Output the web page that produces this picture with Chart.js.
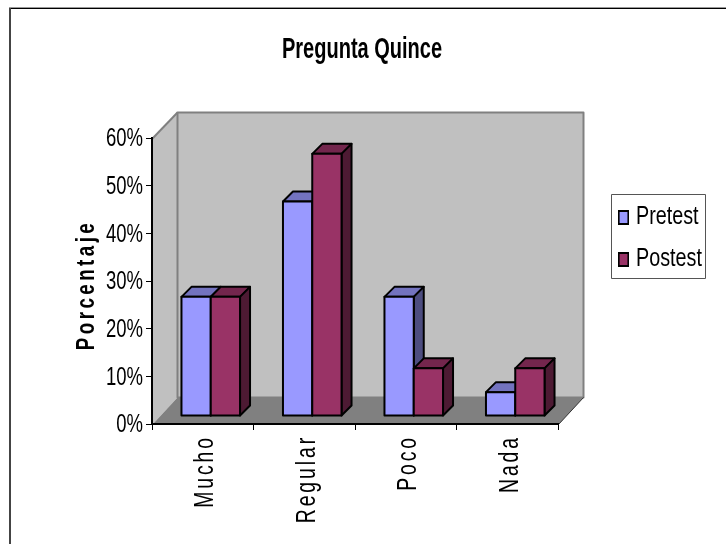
<!DOCTYPE html>
<html>
<head>
<meta charset="utf-8">
<style>html,body{margin:0;padding:0;background:#fff}canvas{display:block}</style>
<script src="https://cdn.jsdelivr.net/npm/chart.js@4"></script>
</head>
<body>
<canvas id="c" width="726" height="544"></canvas>
<script>
const categories = ['Mucho', 'Regular', 'Poco', 'Nada'];
const pretest = [25, 45, 25, 5];
const postest = [25, 55, 10, 10];
const yTicks = [0, 10, 20, 30, 40, 50, 60];
const seriesNames = ['Pretest', 'Postest'];
const titleText = 'Pregunta Quince';
const yTitle = 'Porcentaje';

const FONT = '"Liberation Sans",Arial,sans-serif';
const colors = [
  {front: '#9999FF', top: '#7373BF', side: '#4D4D80'},
  {front: '#993366', top: '#73264D', side: '#4D1A33'}
];
const FLOOR_DX = 25, FLOOR_DY = 27, BAR_SHIFT_X = 8, BAR_SHIFT_Y = 8, BAR_DEPTH = 10;
const SQ_TITLE = 0.69, SQ_TICK = 0.74, SQ_LEGEND = 0.79, SQ_CAT = 0.72, SQ_YTITLE = 0.75;

function swatch(color) {
  const w = Math.round(11 / SQ_LEGEND);
  const c = document.createElement('canvas');
  c.width = w; c.height = 15;
  const x = c.getContext('2d');
  x.fillStyle = color; x.fillRect(0, 0, w, 15);
  x.strokeStyle = '#000'; x.lineWidth = 2; x.strokeRect(1, 1, w - 2, 13);
  return c;
}
const swatches = colors.map(c => swatch(c.front));

function poly(ctx, pts, fill, stroke, lw) {
  ctx.beginPath();
  pts.forEach((p, i) => i ? ctx.lineTo(p[0], p[1]) : ctx.moveTo(p[0], p[1]));
  ctx.closePath();
  if (fill) { ctx.fillStyle = fill; ctx.fill(); }
  if (stroke) { ctx.strokeStyle = stroke; ctx.lineWidth = lw; ctx.lineJoin = 'round'; ctx.stroke(); }
}
// Arial Narrow-like squeeze around a fixed anchor
function squeezeX(ctx, ax, s) { ctx.translate(ax, 0); ctx.scale(s, 1); ctx.translate(-ax, 0); }
function squeezeY(ctx, ay, s) { ctx.translate(0, ay); ctx.scale(1, s); ctx.translate(0, -ay); }

const excel3d = {
  id: 'excel3d',
  afterLayout(chart) {
    const t = chart.titleBlock;
    t.left = 0; t.right = 724;
    const LEG_ANCHOR = 636, half = 12.5;
    const w = 2 * (half / SQ_LEGEND - half);
    const l = chart.legend;
    const pad = chart.options.plugins.legend.labels.padding;
    l.left = LEG_ANCHOR - w - half - pad; l.right = 800; l.top = 188; l.bottom = 300;
    const A = chart.chartArea;
    const x = chart.scales.x, y = chart.scales.y;
    if (x._patched) return;
    x._patched = true;
    x._computeLabelArea = () => undefined;
    y._computeLabelArea = () => undefined;
    const xLabels = x.drawLabels, yLabels = y.drawLabels, yT = y.drawTitle, lDraw = l.draw, tDraw = t.draw;
    x.drawLabels = function (a) {
      const ctx = this.ctx; ctx.save();
      ctx.letterSpacing = '4px';
      ctx.translate(3, 0);
      squeezeY(ctx, A.bottom + 11, SQ_CAT);
      xLabels.call(this, a); ctx.restore();
    };
    y.drawLabels = function (a) {
      const ctx = this.ctx; ctx.save();
      ctx.translate(0, 1.5);
      squeezeX(ctx, A.left - 9, SQ_TICK);
      yLabels.call(this, a); ctx.restore();
    };
    y.drawTitle = function (a) {
      const ctx = this.ctx; ctx.save();
      ctx.letterSpacing = '4.6px';
      squeezeY(ctx, (A.top + A.bottom) / 2 + 4, SQ_YTITLE);
      ctx.translate(0, 4);
      yT.call(this, a); ctx.restore();
    };
    l.draw = function () {
      const ctx = this.ctx; ctx.save();
      squeezeX(ctx, LEG_ANCHOR, SQ_LEGEND);
      lDraw.call(this); ctx.restore();
    };
    t.draw = function () {
      const ctx = this.ctx; ctx.save();
      squeezeX(ctx, 362, SQ_TITLE);
      tDraw.call(this); ctx.restore();
    };
  },
  beforeDraw(chart) {
    const ctx = chart.ctx, A = chart.chartArea;
    ctx.save();
    ctx.fillStyle = '#fff'; ctx.fillRect(0, 0, chart.width, chart.height);
    // outer frame
    ctx.fillStyle = '#999'; ctx.fillRect(9, 7, chart.width - 9, 1);
    ctx.fillStyle = '#000'; ctx.fillRect(9, 8, chart.width - 9, 1);
    ctx.fillStyle = '#444'; ctx.fillRect(9, 8, 2, chart.height - 8);
    // walls & floor
    const L = A.left + .5, R = A.right + .5, T = A.top + .5, B = A.bottom + .5;
    const dx = FLOOR_DX, dy = FLOOR_DY;
    poly(ctx, [[L, T], [L + dx, T - dy + 1], [L + dx, B - dy], [L, B]], '#C0C0C0', null);
    poly(ctx, [[L + dx, T - dy + 1], [R + dx, T - dy + 1], [R + dx, B - dy], [L + dx, B - dy]], '#C0C0C0', '#808080', 2);
    poly(ctx, [[L, B], [R, B], [R + dx, B - dy], [L + dx, B - dy]], '#808080', null);
    ctx.strokeStyle = '#808080'; ctx.lineWidth = 2;
    ctx.beginPath(); ctx.moveTo(L, T); ctx.lineTo(L + dx, T - dy + 1); ctx.stroke();
    ctx.strokeStyle = '#333'; ctx.lineWidth = 1;
    ctx.beginPath(); ctx.moveTo(R, B); ctx.lineTo(R + dx, B - dy); ctx.stroke();
    // legend box
    ctx.fillStyle = '#fff'; ctx.strokeStyle = '#555'; ctx.lineWidth = 1;
    ctx.fillRect(611.5, 194.5, 94, 84); ctx.strokeRect(611.5, 194.5, 94, 84);
    ctx.restore();
  },
  beforeDatasetsDraw(chart) {
    const ctx = chart.ctx, d = BAR_DEPTH;
    categories.forEach((_, i) => {
      chart.data.datasets.forEach((ds, k) => {
        const el = chart.getDatasetMeta(k).data[i];
        const {x, y, base, width} = el.getProps(['x', 'y', 'base', 'width'], true);
        const l = x - width / 2, r = x + width / 2;
        ctx.save();
        ctx.translate(BAR_SHIFT_X, -BAR_SHIFT_Y);
        poly(ctx, [[l, y], [l + d, y - d], [r + d, y - d], [r, y]], colors[k].top, '#000', 2);
        poly(ctx, [[r, y], [r + d, y - d], [r + d, base - d], [r, base]], colors[k].side, '#000', 2);
        el.draw(ctx);
        poly(ctx, [[l, y], [r, y], [r, base], [l, base]], null, '#000', 2);
        ctx.restore();
      });
    });
    return false;
  }
};

new Chart(document.getElementById('c'), {
  type: 'bar',
  plugins: [excel3d],
  data: {
    labels: categories,
    datasets: [
      {label: seriesNames[0], data: pretest, backgroundColor: colors[0].front},
      {label: seriesNames[1], data: postest, backgroundColor: colors[1].front}
    ]
  },
  options: {
    responsive: false,
    animation: false,
    events: [],
    layout: {padding: {left: 0, right: 168, top: 0, bottom: 0}},
    datasets: {bar: {categoryPercentage: 0.577, barPercentage: 1, borderWidth: 0}},
    plugins: {
      tooltip: {enabled: false},
      title: {
        display: true, text: titleText, color: '#000',
        font: {family: FONT, size: 29, weight: 'bold', lineHeight: 1.2},
        padding: {top: 32.5, bottom: 70.7}
      },
      legend: {
        display: true, position: 'chartArea', align: 'start',
        labels: {
          color: '#000', font: {family: FONT, size: 25},
          usePointStyle: true, pointStyleWidth: 2 * (12.5 / SQ_LEGEND - 12.5), padding: 17,
          generateLabels(chart) {
            return seriesNames.map((n, k) => ({
              text: n, datasetIndex: k, fontColor: '#000', pointStyle: swatches[k],
              fillStyle: colors[k].front, strokeStyle: '#000', lineWidth: 0, hidden: false
            }));
          }
        }
      }
    },
    scales: {
      x: {
        afterFit(s) { s.height = 120; },
        grid: {display: true, drawOnChartArea: false, offset: true, color: '#000', tickLength: 6, lineWidth: 1},
        border: {color: '#000', width: 2},
        ticks: {color: '#000', minRotation: 90, maxRotation: 90, padding: 5, font: {family: FONT, size: 27}}
      },
      y: {
        min: 0, max: 60,
        afterFit(s) { s.width = 152; },
        afterBuildTicks(s) { s.ticks = yTicks.map(v => ({value: v})); },
        grid: {display: true, drawOnChartArea: false, color: '#000', tickLength: 6, lineWidth: 1},
        border: {color: '#000', width: 2},
        title: {
          display: true, text: yTitle, color: '#000',
          font: {family: FONT, size: 25, weight: 'bold'},
          padding: {top: 72, bottom: 0}
        },
        ticks: {color: '#000', padding: 3, font: {family: FONT, size: 25}, callback: v => v + '%'}
      }
    }
  }
});
</script>
</body>
</html>
